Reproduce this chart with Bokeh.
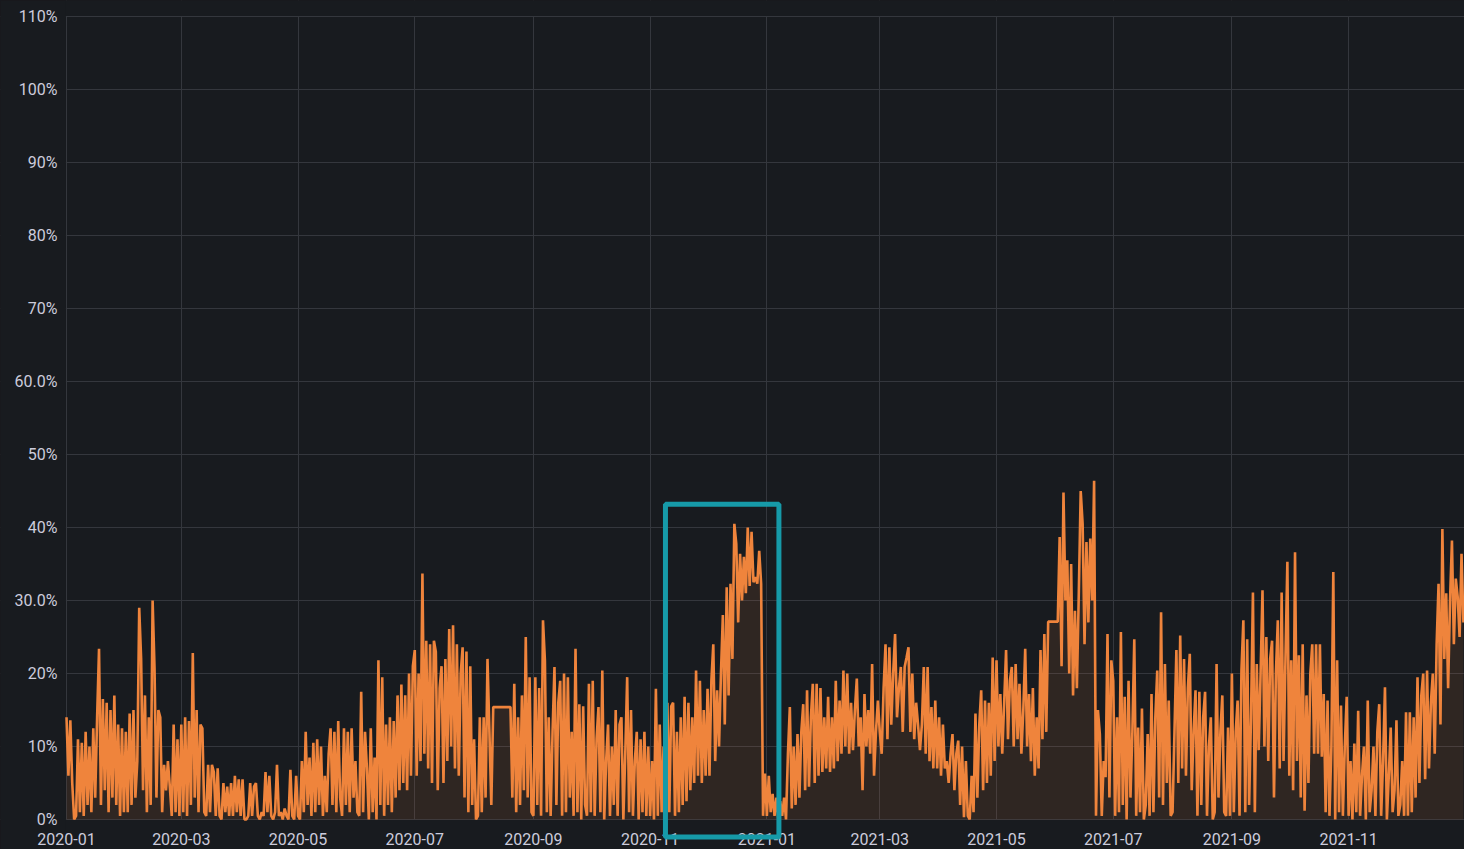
import pandas as pd
from bokeh.plotting import figure
from bokeh.models import (Range1d, FixedTicker, DatetimeTickFormatter, BoxAnnotation,
                          ColumnDataSource)
from bokeh.embed import file_html
from bokeh.resources import INLINE

# ---------------- data (daily values, %) ----------------
start_date = "2020-01-01"

m2020_01 = [14, 6, 13.6, 5, 0, 0.5, 11, 1, 10.5, 0.5, 12, 2, 10, 1, 12.5, 3, 14, 23.4, 2, 16.5,
            4, 16, 1, 15, 3, 17, 2, 13, 0.5, 12.5, 1]
m2020_02 = [12, 1, 14.5, 2, 15, 3, 8, 29, 22, 4, 17, 1, 14, 2, 30, 20.7, 3, 15, 14, 1,
            7.5, 4, 8, 4.5, 0.5, 13, 1, 11, 0.5]
m2020_03 = [13, 1, 14, 0.5, 13.5, 2, 22.8, 3, 15, 1, 13, 12.5, 1, 0.5, 7.5, 1, 7.5, 6.5, 0.5, 7,
            0.5, 0, 5, 1, 4.5, 0.5, 5, 0.5, 6, 1, 5.5]
m2020_04 = [0.5, 5.5, 0, 0, 0.5, 5, 0.5, 4.5, 5, 0.5, 0, 1, 0.5, 6.5, 1, 6, 0.5, 0, 1, 7.5,
            0.5, 1, 0, 1.5, 0.5, 0, 6.8, 0.5, 0, 6]
m2020_05 = [0.5, 0, 8, 1, 12, 2, 8.5, 0.5, 10.5, 1, 11, 2, 10, 0.5, 6, 1, 9, 12.5, 2, 12,
            1, 13.5, 3, 0.5, 12.5, 2, 12, 1, 12.5, 3, 8]
m2020_06 = [1, 0.5, 17.5, 1, 12, 7, 0, 12.5, 1, 8.5, 0, 21.8, 2, 19.5, 0.5, 13, 2, 14, 1, 13.5,
            3, 17, 4, 18.5, 5, 17, 4, 20, 6, 21]
m2020_07 = [23.2, 6, 20, 8, 33.7, 9, 24.5, 7, 24, 5, 24.5, 23, 4, 18, 21, 5, 22, 8, 26.1, 10,
            26.6, 7, 24, 6, 20, 23.6, 3, 23, 1, 21, 2]
m2020_08 = [11, 0, 0.5, 14, 1, 14, 3, 22, 12, 2, 15.4, 15.4, 15.4, 15.4, 15.4, 15.4, 15.4, 15.4, 15.4, 15.4,
            3, 18.6, 1, 14, 2, 17, 4, 25, 3, 19.5, 1]
m2020_09 = [0.5, 19.5, 2, 18, 0.5, 27.3, 21.8, 1, 14, 0.5, 12, 20.9, 2, 16, 19, 0.5, 20, 1, 19.5, 3,
            12, 0.5, 23.4, 1, 15.8, 0, 15.5, 2, 0.5, 18.6]
m2020_10 = [1, 19, 0.5, 11, 15.4, 1, 20.4, 0, 8, 13, 0.5, 10, 2, 15, 0.5, 13, 14, 0, 9, 19.5,
            1, 15, 0.5, 8, 12, 0, 11, 1, 12, 0.5, 10]
m2020_11 = [0.5, 8, 0, 17.9, 0.5, 13, 1, 10, 0.5, 16, 1, 15.5, 16, 0.5, 12, 1, 14, 2, 16.8, 2.5,
            16, 4, 14, 5, 20.4, 6, 19, 5, 15, 6]
m2020_12 = [17.9, 6, 19, 24, 8, 17.7, 10, 20, 28, 13, 31.8, 17, 32.3, 22, 40.5, 37.8, 27, 36.4, 30, 36,
            31, 40, 32, 39.4, 32.5, 33.2, 32.3, 36.8, 32.3, 0.5, 6.3]
m2021_01 = [0.5, 6, 1, 3.5, 0.5, 3, 0, 2.5, 0.5, 3, 0, 9, 15.4, 1.5, 10, 2, 11.7, 3, 12, 15.8,
            4, 17.7, 4.5, 14, 18.6, 5, 18.6, 6, 18, 6.5, 14]
m2021_02 = [7, 16.8, 6.5, 14, 7, 19, 8, 16.3, 9, 20.4, 10, 20, 9, 16, 9.5, 15, 19.3, 10, 14, 4,
            17.2, 10, 15, 9, 21.3, 6, 12, 16.3]
m2021_03 = [12, 9, 18, 24, 11, 23.6, 13, 20, 25.4, 14, 18, 20.9, 12, 20.9, 22.2, 23.6, 12, 20, 11, 16,
            13, 9.5, 13, 20.9, 9, 20.9, 8, 15.4, 7, 16.3, 7]
m2021_04 = [14, 6, 13, 7, 8, 5, 9, 11.7, 4, 9, 10.8, 2, 10, 0.3, 8, 0.5, 0, 6, 1, 14.5,
            3, 13, 17.7, 4, 16.3, 5, 16, 6, 22.2, 8]
m2021_05 = [21.8, 10, 17.2, 9, 16, 23.2, 11, 19, 20.9, 10, 21.3, 11, 18.6, 9, 15, 23.4, 10, 17.2, 8, 18,
            6, 14, 7, 23.2, 11, 25.4, 12, 27.1, 27.1, 27.1, 27.1]
m2021_06 = [27.1, 27.1, 38.7, 21, 44.8, 30, 35.5, 20, 35, 17, 28.6, 18, 31, 45, 40.5, 24, 38, 27, 38.5, 30,
            46.4, 0.5, 15, 11.7, 0.5, 8, 5.8, 25.4, 3, 21.8]
m2021_07 = [19, 0.5, 14, 1, 25.7, 2, 16.8, 0, 19, 3, 12, 24.7, 0.5, 12.6, 1, 15.2, 0, 2, 11.7, 0.5,
            17.2, 1, 14, 20.4, 3, 28.4, 2, 21.3, 5, 16.3, 0.5]
m2021_08 = [1, 12, 23.2, 5, 25.2, 7, 22, 6, 18, 22.7, 4, 12, 17.7, 0.5, 17.5, 2, 14, 17.5, 0.5, 10,
            14, 0, 1, 21.3, 3, 12, 17, 1, 0.5, 12.6, 0.5]
m2021_09 = [20, 1, 12, 16.3, 0.5, 20.4, 27.3, 1, 24.7, 2, 14, 31.1, 1, 21.3, 9.5, 20, 31.4, 10, 25, 8,
            22, 24.5, 3, 20, 27.3, 7, 31.1, 8, 22, 35.3]
m2021_10 = [6, 21.8, 4, 36.6, 8, 22.5, 3, 24, 1.2, 17, 5, 20, 24, 9, 24, 9, 24, 8.6, 17.2, 1,
            16.3, 0.5, 10, 33.9, 0, 21.8, 1, 15.6, 0.5, 10, 16.8]
m2021_11 = [0.5, 8, 0, 10.4, 1, 14.9, 0.5, 6, 10, 0, 16.3, 1, 4, 10, 0.5, 12, 15.8, 0.5, 8, 18.1,
            0, 6, 12.6, 1, 4, 13.6, 0.5, 2, 8, 0.5]
m2021_12 = [14.7, 0.5, 14.7, 1, 14, 3, 19.5, 5, 17, 20, 5.5, 20.4, 7, 16, 20, 9, 24, 32.3, 13, 39.8,
            22, 31, 18, 30, 38.2, 24, 33, 30.5, 25, 36.4, 27]

x_tick_labels = ["2020-01", "2020-03", "2020-05", "2020-07", "2020-09", "2020-11",
                 "2021-01", "2021-03", "2021-05", "2021-07", "2021-09", "2021-11"]
y_tick_values = [0, 10, 20, 30, 40, 50, 60, 70, 80, 90, 100, 110]
y_tick_labels = ["0%", "10%", "20%", "30.0%", "40%", "50%", "60.0%", "70%", "80%", "90%", "100%", "110%"]

# highlighted period (annotation box)
highlight_start = "2020-11-09"
highlight_end = "2021-01-07 07:00"
highlight_low = -2.4
highlight_high = 43.2

# ---------------- styling / layout ----------------
BG = "#181b1f"
GRID = "#34373d"
TEXT = "#ccccdc"
ORANGE = "#ef843c"
TEAL = "#169aa8"
FONT = "Roboto"
W, H = 1464, 849
PLOT_LEFT, PLOT_TOP, PLOT_BOTTOM = 66, 16, 819   # pixel edges of the data area
Y_MAX = 110

months = [m2020_01, m2020_02, m2020_03, m2020_04, m2020_05, m2020_06,
          m2020_07, m2020_08, m2020_09, m2020_10, m2020_11, m2020_12,
          m2021_01, m2021_02, m2021_03, m2021_04, m2021_05, m2021_06,
          m2021_07, m2021_08, m2021_09, m2021_10, m2021_11, m2021_12]
values = [v for m in months for v in m]
dates = pd.date_range(start_date, periods=len(values), freq="D")
src = ColumnDataSource(dict(date=dates, value=values))


def ms(s):
    return pd.Timestamp(s).value / 1e6


DAY = 86400000.0
data_start = ms(dates[0])
data_end = ms(dates[-1]) + 0.56 * DAY
ms_per_px = (data_end - data_start) / (W - PLOT_LEFT)
px_per_unit = (PLOT_BOTTOM - PLOT_TOP) / Y_MAX

# the frame covers the whole canvas; axes are pinned at the data origin
x_range = Range1d(data_start - PLOT_LEFT * ms_per_px, data_end)
y_range = Range1d(-(H - PLOT_BOTTOM) / px_per_unit, Y_MAX + PLOT_TOP / px_per_unit)

p = figure(width=W, height=H, x_axis_type="datetime",
           output_backend="svg", toolbar_location=None,
           x_range=x_range, y_range=y_range,
           min_border_left=0, min_border_right=0, min_border_top=0, min_border_bottom=0,
           background_fill_color=BG, border_fill_color=BG, outline_line_color=None)

# masks that keep grid lines inside the data area
p.add_layout(BoxAnnotation(top=-0.08, fill_color=BG, fill_alpha=1, line_alpha=0, level="underlay"))
p.add_layout(BoxAnnotation(bottom=Y_MAX + 0.08, fill_color=BG, fill_alpha=1, line_alpha=0, level="underlay"))
p.add_layout(BoxAnnotation(right=data_start - 0.6 * ms_per_px, fill_color=BG, fill_alpha=1,
                           line_alpha=0, level="underlay"))

p.varea(x="date", y1=0, y2="value", source=src, fill_color=ORANGE, fill_alpha=0.11)
p.line(x="date", y="value", source=src, line_color=ORANGE, line_width=2.6, line_join="bevel")

x_ticker = FixedTicker(ticks=[ms(t + "-01") for t in x_tick_labels])
y_ticker = FixedTicker(ticks=y_tick_values)

xa = p.xaxis[0]
xa.ticker = x_ticker
xa.fixed_location = 0
xa.formatter = DatetimeTickFormatter(years="%Y-%m", months="%Y-%m", days="%Y-%m",
                                     hours="%Y-%m", minutes="%Y-%m")
ya = p.yaxis[0]
ya.ticker = y_ticker
ya.fixed_location = data_start
ya.major_label_overrides = {v: l for v, l in zip(y_tick_values, y_tick_labels)}

for ax in (xa, ya):
    ax.axis_line_color = None
    ax.major_tick_line_color = None
    ax.minor_tick_line_color = None
    ax.major_tick_out = 0
    ax.major_tick_in = 0
    ax.major_label_text_color = TEXT
    ax.major_label_text_font = FONT
    ax.major_label_text_font_size = "16px"
xa.major_label_standoff = 13
ya.major_label_standoff = 9

p.xgrid.ticker = x_ticker
p.ygrid.ticker = y_ticker
p.xgrid.grid_line_color = GRID
p.ygrid.grid_line_color = GRID
p.xgrid.grid_line_width = 1
p.ygrid.grid_line_width = 1

box = BoxAnnotation(left=ms(highlight_start), right=ms(highlight_end),
                    bottom=highlight_low, top=highlight_high,
                    fill_color=None, fill_alpha=0, line_color=TEAL, line_alpha=1,
                    line_width=5, level="overlay")
p.add_layout(box)

html = file_html(p, INLINE, title="chart")
html = html.replace("<head>", "<head><style>html,body{margin:0;padding:0;background:#181b1f;overflow:hidden;}</style>", 1)
open("out.html", "w").write(html)
